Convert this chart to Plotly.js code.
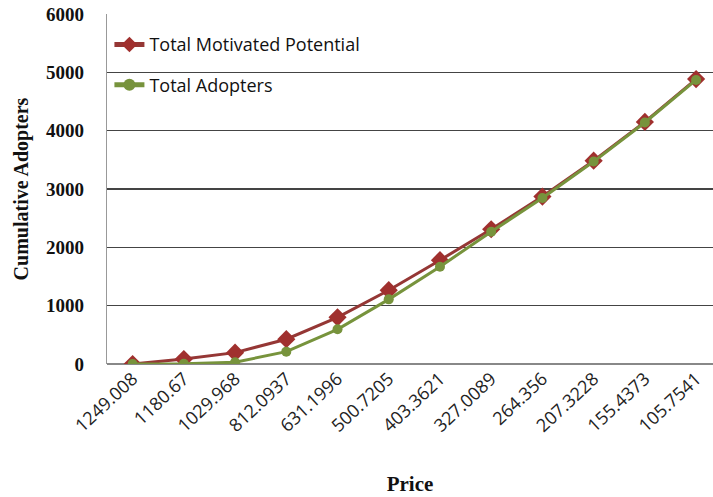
<!DOCTYPE html>
<html>
<head>
<meta charset="utf-8">
<script src="https://cdn.plot.ly/plotly-3.0.1.min.js"></script>
<style>html,body{margin:0;padding:0;background:#fff;}#chart{width:713px;height:497px;}</style>
</head>
<body>
<div id="chart"></div>
<script>
var prices = ["1249.008","1180.67","1029.968","812.0937","631.1996","500.7205","403.3621","327.0089","264.356","207.3228","155.4373","105.7541"];
var motivatedPotential = [0, 85, 195, 425, 800, 1265, 1780, 2310, 2870, 3485, 4150, 4885];
var totalAdopters = [0, 5, 30, 212, 595, 1108, 1668, 2268, 2845, 3470, 4140, 4870];

var traces = [
  {
    x: prices, y: motivatedPotential, type: "scatter", mode: "lines+markers",
    name: "Total Motivated Potential", legendgroup: "a",
    line: {color: "#953735", width: 3},
    marker: {symbol: "diamond", size: 14, color: "#A0302E"}
  },
  {
    x: prices, y: totalAdopters, type: "scatter", mode: "lines+markers",
    name: "Total Adopters", legendgroup: "b",
    line: {color: "#77933C", width: 3},
    marker: {symbol: "circle", size: 10, color: "#77933C"}
  }
];

var layout = {
  width: 713, height: 497,
  margin: {l: 107, r: 0, t: 14, b: 133},
  paper_bgcolor: "#fff", plot_bgcolor: "#fff",
  showlegend: true,
  legend: {
    x: 0.004, y: 0.965, xanchor: "left", yanchor: "top",
    bgcolor: "rgba(0,0,0,0)", traceorder: "grouped", tracegroupgap: 14,
    itemsizing: "constant",
    font: {family: "Open Sans, Noto Sans, sans-serif", size: 18, color: "#111"}
  },
  xaxis: {
    type: "category", range: [-0.5, 11.33],
    tickangle: -43, showgrid: false,
    tickfont: {family: "Open Sans, Noto Sans, sans-serif", size: 18, color: "#222"},
    showline: false, zeroline: false, ticks: "",
    title: {text: "Price", font: {family: "Liberation Serif, serif", size: 21, color: "#111", weight: "bold"}, standoff: 40}
  },
  yaxis: {
    range: [0, 6000], dtick: 1000, tick0: 0,
    showgrid: true, gridcolor: "#444", gridwidth: 1.3,
    zeroline: true, zerolinecolor: "#888", zerolinewidth: 1.3,
    showline: true, linecolor: "#999", linewidth: 1.3,
    ticks: "", ticklabelstandoff: 18,
    tickfont: {family: "Liberation Serif, serif", size: 19, color: "#111", weight: "bold"},
    title: {text: "Cumulative Adopters", font: {family: "Liberation Serif, serif", size: 20, color: "#111", weight: "bold"}, standoff: 12}
  }
};

Plotly.newPlot("chart", traces, layout, {displayModeBar: false, staticPlot: true});
</script>
</body>
</html>
